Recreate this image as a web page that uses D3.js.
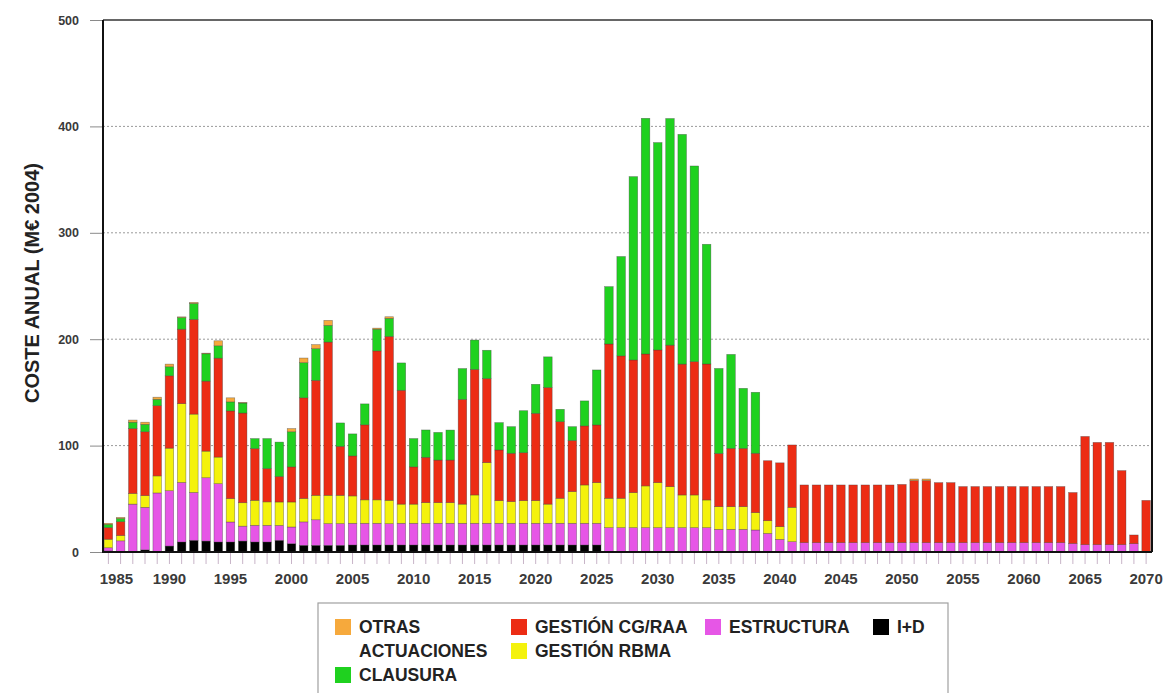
<!DOCTYPE html>
<html>
<head>
<meta charset="utf-8">
<script src="https://cdn.jsdelivr.net/npm/d3@7"></script>
<style>
  body { margin: 0; background: #fff; }
  text { font-family: "Liberation Sans", Arial, sans-serif; font-weight: bold; }
</style>
</head>
<body>
<div id="chart"></div>
<script>
// años 1985-2070
const years = [
  1985, 1986, 1987, 1988, 1989, 1990, 1991, 1992, 1993, 1994,
  1995, 1996, 1997, 1998, 1999, 2000, 2001, 2002, 2003, 2004,
  2005, 2006, 2007, 2008, 2009, 2010, 2011, 2012, 2013, 2014,
  2015, 2016, 2017, 2018, 2019, 2020, 2021, 2022, 2023, 2024,
  2025, 2026, 2027, 2028, 2029, 2030, 2031, 2032, 2033, 2034,
  2035, 2036, 2037, 2038, 2039, 2040, 2041, 2042, 2043, 2044,
  2045, 2046, 2047, 2048, 2049, 2050, 2051, 2052, 2053, 2054,
  2055, 2056, 2057, 2058, 2059, 2060, 2061, 2062, 2063, 2064,
  2065, 2066, 2067, 2068, 2069, 2070
];

// M€ 2004, one value per year
const iD = [
  1, 0.5, 0, 2, 0.5, 5.6, 9.4, 11, 10.3, 9.4,
  9.4, 10.3, 9.4, 9.4, 11, 7.8, 6.3, 6.3, 6.3, 6.3,
  6.6, 6.6, 6.6, 6.6, 6.6, 6.6, 6.6, 6.6, 6.6, 6.6,
  6.6, 6.6, 6.6, 6.6, 6.6, 6.6, 6.6, 6.6, 6.6, 6.6,
  6.6, 0, 0, 0, 0, 0, 0, 0, 0, 0,
  0, 0, 0, 0, 0, 0, 0, 0, 0, 0,
  0, 0, 0, 0, 0, 0, 0, 0, 0, 0,
  0, 0, 0, 0, 0, 0, 0, 0, 0, 0,
  0, 0, 0, 0, 0, 0
];
const estructura = [
  3, 10, 45, 40, 55, 52, 56, 45, 59.5, 54.8,
  18.8, 14, 15.7, 15.7, 14, 15.7, 22, 24, 20.4, 20.4,
  20.4, 20.4, 20.4, 20, 20.4, 20.4, 20.4, 20.4, 20.4, 20.4,
  20.4, 20.4, 20.4, 20.4, 20.4, 20.4, 20.4, 20.4, 20.4, 20.4,
  20.4, 22.9, 22.9, 22.9, 22.9, 22.9, 22.9, 22.9, 22.9, 22.9,
  21.3, 21.3, 21.3, 20.7, 17.5, 11.9, 9.7, 8.8, 8.8, 8.8,
  8.8, 8.8, 8.8, 8.8, 8.8, 8.8, 8.8, 8.8, 8.8, 8.8,
  8.8, 8.8, 8.8, 8.8, 8.8, 8.8, 8.8, 8.8, 8.8, 8,
  6.9, 6.9, 6.9, 6.9, 7.8, 0
];
const gestionRbma = [
  8, 5, 10, 11, 16, 40, 74, 73.6, 25, 25,
  22, 22, 23.5, 22, 22, 23.5, 22, 23, 26.6, 26.6,
  25.7, 22, 22, 22, 18, 18, 19.4, 19.4, 19.4, 18,
  26.6, 57, 21.3, 20.4, 21.3, 21.3, 18, 23.5, 29.8, 36,
  38.2, 27.6, 27.6, 32.9, 39.2, 42.3, 38.5, 30.7, 30.7, 26,
  21.3, 21.3, 21.3, 16.3, 11.9, 11.9, 32.3, 0, 0, 0,
  0, 0, 0, 0, 0, 0, 0, 0, 0, 0,
  0, 0, 0, 0, 0, 0, 0, 0, 0, 0,
  0, 0, 0, 0, 0, 0
];
const gestionCgRaa = [
  11, 13, 61, 60, 66, 68, 70, 89, 65.8, 93,
  82.4, 84.3, 48.6, 31.3, 24, 33, 94.6, 108, 144, 46,
  37.6, 70.5, 140, 154, 107, 35, 42.6, 40, 40, 98.4,
  118, 79, 47.6, 45.4, 45, 82, 109.6, 72, 48, 55.5,
  54.2, 145, 133.8, 124.7, 124, 124.7, 133, 123, 125.3, 127.8,
  50, 54.8, 54.8, 55.8, 56.4, 60, 58.6, 54.2, 54.2, 54.2,
  54.2, 54.2, 54.2, 54.2, 54.2, 54.7, 58.3, 58.3, 56.4, 56.4,
  52.7, 52.7, 52.7, 52.7, 52.7, 52.7, 52.7, 52.7, 52.7, 47.9,
  101.7, 96.1, 96.1, 69.6, 8.2, 48.5
];
const clausura = [
  3, 3, 6, 7, 6, 8.5, 11, 15, 25.7, 11.6,
  8.5, 9.4, 9.4, 28.2, 32.3, 33, 33, 29.8, 15.7, 22,
  20.7, 19.7, 20.4, 17, 25.7, 26.6, 25.7, 26, 28.2, 29,
  27.6, 26.6, 25.7, 25, 39.5, 27.3, 28.8, 11.6, 13, 23.5,
  51.7, 53.9, 93.4, 172.3, 221.5, 194.9, 213, 215.9, 183.9, 112.5,
  79.9, 88.3, 56.4, 57.3, 0, 0, 0, 0, 0, 0,
  0, 0, 0, 0, 0, 0, 0, 0, 0, 0,
  0, 0, 0, 0, 0, 0, 0, 0, 0, 0,
  0, 0, 0, 0, 0, 0
];
const otrasActuaciones = [
  1, 1, 2, 2, 2, 2.5, 0.6, 1, 0.6, 4.7,
  3.8, 0.5, 0, 0, 0, 3, 4.4, 3.8, 4.7, 0,
  0, 0, 1, 1.5, 0, 0, 0, 0, 0, 0,
  0, 0, 0, 0, 0, 0, 0, 0, 0, 0,
  0, 0, 0, 0, 0, 0, 0, 0, 0, 0,
  0, 0, 0, 0, 0, 0, 0, 0, 0, 0,
  0, 0, 0, 0, 0, 0, 1.5, 1.5, 0, 0,
  0, 0, 0, 0, 0, 0, 0, 0, 0, 0,
  0, 0, 0, 0, 0, 0
];

const yTicks = [0, 100, 200, 300, 400, 500];
const xLabelYears = [1985, 1990, 1995, 2000, 2005, 2010, 2015, 2020, 2025, 2030,
                     2035, 2040, 2045, 2050, 2055, 2060, 2065, 2070];

// stack order bottom -> top
const series = [
  {key: "id", label: ["I+D"], color: "#000000", values: iD},
  {key: "est", label: ["ESTRUCTURA"], color: "#e656e6", values: estructura},
  {key: "rbma", label: ["GESTIÓN RBMA"], color: "#f4f20c", values: gestionRbma},
  {key: "cg", label: ["GESTIÓN CG/RAA"], color: "#ec2c14", values: gestionCgRaa},
  {key: "cla", label: ["CLAUSURA"], color: "#1fd11f", values: clausura},
  {key: "otras", label: ["OTRAS", "ACTUACIONES"], color: "#f6a93c", values: otrasActuaciones}
];

const width = 1169, height = 693;
const plot = {left: 103, right: 1152, top: 20, bottom: 552};

const rows = years.map((yr, i) => {
  const r = {year: yr};
  series.forEach(s => r[s.key] = s.values[i]);
  return r;
});

const stacked = d3.stack().keys(series.map(s => s.key))(rows);

const svg = d3.select("#chart").append("svg")
  .attr("width", width)
  .attr("height", height);

const x = d3.scaleBand().domain(years)
  .range([plot.left + 0.5, plot.right - 1])
  .paddingInner(0.3).paddingOuter(0.05);
const y = d3.scaleLinear().domain([0, 500]).range([plot.bottom, plot.top]);

// dotted grid
svg.append("g").selectAll("line")
  .data(yTicks.filter(d => d > 0 && d < 500))
  .enter().append("line")
  .attr("x1", plot.left).attr("x2", plot.right)
  .attr("y1", d => y(d)).attr("y2", d => y(d))
  .attr("stroke", "#9a9a9a")
  .attr("stroke-width", 1)
  .attr("stroke-dasharray", "2,2");

// bars
const color = {};
series.forEach(s => color[s.key] = s.color);

svg.append("g").selectAll("g")
  .data(stacked)
  .enter().append("g")
  .attr("fill", d => color[d.key])
  .selectAll("rect")
  .data(d => d.filter(p => p[1] - p[0] > 0))
  .enter().append("rect")
  .attr("x", d => x(d.data.year))
  .attr("width", x.bandwidth())
  .attr("y", d => y(d[1]))
  .attr("height", d => y(d[0]) - y(d[1]))
  .attr("stroke", "#3a3a3a")
  .attr("stroke-opacity", 0.55)
  .attr("stroke-width", 0.6);

// y axis
const yAxis = svg.append("g")
  .attr("transform", `translate(${plot.left},0)`)
  .call(d3.axisLeft(y).tickValues(yTicks).tickSize(13).tickPadding(11));
yAxis.select(".domain").remove();
yAxis.selectAll("line").attr("stroke", "#8a8a8a");
yAxis.selectAll("text")
  .attr("font-size", 12.5)
  .attr("font-family", "Liberation Sans, Arial, sans-serif")
  .attr("font-weight", "bold")
  .attr("fill", "#3a3a3a");

// x axis
const xAxis = svg.append("g")
  .attr("transform", `translate(0,${plot.bottom})`)
  .call(d3.axisBottom(x).tickValues(years).tickSize(12).tickPadding(9)
    .tickFormat(d => xLabelYears.includes(d) ? d : ""));
xAxis.select(".domain").remove();
xAxis.selectAll("line").attr("stroke", "#c8b4c8");
xAxis.selectAll("text")
  .attr("font-size", 15)
  .attr("font-family", "Liberation Sans, Arial, sans-serif")
  .attr("font-weight", "bold")
  .attr("fill", "#3a3a3a")
  .attr("dx", d => d === 1985 ? 8 : 0);

// frame
svg.append("line").attr("x1", plot.left).attr("x2", plot.right)
  .attr("y1", plot.top).attr("y2", plot.top)
  .attr("stroke", "#333").attr("stroke-width", 1.5);
svg.append("line").attr("x1", plot.right).attr("x2", plot.right)
  .attr("y1", plot.top).attr("y2", plot.bottom)
  .attr("stroke", "#111").attr("stroke-width", 2);
svg.append("line").attr("x1", plot.left).attr("x2", plot.left)
  .attr("y1", plot.top).attr("y2", plot.bottom + 1)
  .attr("stroke", "#111").attr("stroke-width", 2);
svg.append("line").attr("x1", plot.left).attr("x2", plot.right)
  .attr("y1", plot.bottom).attr("y2", plot.bottom)
  .attr("stroke", "#111").attr("stroke-width", 2);

// y title
svg.append("text")
  .attr("transform", "translate(39,283) rotate(-90)")
  .attr("text-anchor", "middle")
  .attr("font-size", 20)
  .attr("fill", "#222")
  .text("COSTE ANUAL (M€ 2004)");

// legend
const legend = svg.append("g");
legend.append("rect")
  .attr("x", 318).attr("y", 603)
  .attr("width", 630).attr("height", 110)
  .attr("fill", "#fff")
  .attr("stroke", "#a0a0a0")
  .attr("stroke-width", 1.2);

const legendPos = {
  otras: [335, 619], cla: [335, 667], cg: [511, 619],
  rbma: [511, 643], est: [705, 619], id: [873, 619]
};

series.forEach(s => {
  const [lx, ly] = legendPos[s.key];
  legend.append("rect")
    .attr("x", lx).attr("y", ly)
    .attr("width", 16).attr("height", 16)
    .attr("fill", s.color);
  s.label.forEach((t, i) => {
    legend.append("text")
      .attr("x", lx + 24)
      .attr("y", ly + 14 + i * 24)
      .attr("font-size", 17.5)
      .attr("fill", "#222")
      .text(t);
  });
});
</script>
</body>
</html>
